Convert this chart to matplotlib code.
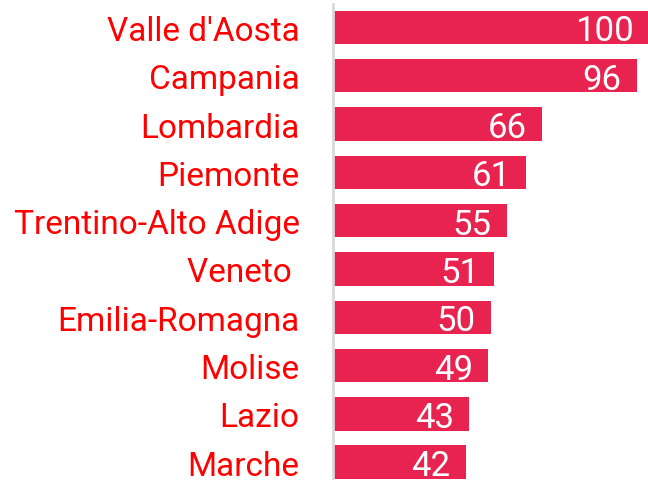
import matplotlib.pyplot as plt
from matplotlib import font_manager

# Data
regions = ["Valle d'Aosta", "Campania", "Lombardia", "Piemonte", "Trentino-Alto Adige",
           "Veneto ", "Emilia-Romagna", "Molise", "Lazio", "Marche"]
values = [100, 96, 66, 61, 55, 51, 50, 49, 43, 42]

bar_color = '#E8234F'
label_color = '#FF0000'

names = {f.name for f in font_manager.fontManager.ttflist}
font = 'Roboto' if 'Roboto' in names else 'DejaVu Sans'
plt.rcParams['font.family'] = [font, 'DejaVu Sans']

fig = plt.figure(figsize=(6.48, 4.81), dpi=100)
ax = fig.add_axes([333 / 648, 0, 1 - 333 / 648, 476 / 481])

pos = list(range(len(regions)))
ax.barh(pos, values, height=0.69, color=bar_color)

ax.set_xlim(0, 99.6)
ax.set_ylim(9.37, -0.487)

ax.set_yticks(pos)
ax.set_yticklabels(regions, fontsize=24, color=label_color)
ax.tick_params(axis='y', length=0, pad=24)
ax.set_xticks([])

for s in ['top', 'right', 'bottom']:
    ax.spines[s].set_visible(False)
ax.spines['left'].set_color('#d9d9d9')
ax.spines['left'].set_linewidth(2)

# value labels inside the bar end
for p, v in zip(pos, values):
    ax.annotate(str(v), xy=(v, p), xytext=(-11, -2.5), textcoords='offset points',
                ha='right', va='center', color='white', fontsize=25,
                annotation_clip=False)

fig.savefig('out.png', dpi=100)
